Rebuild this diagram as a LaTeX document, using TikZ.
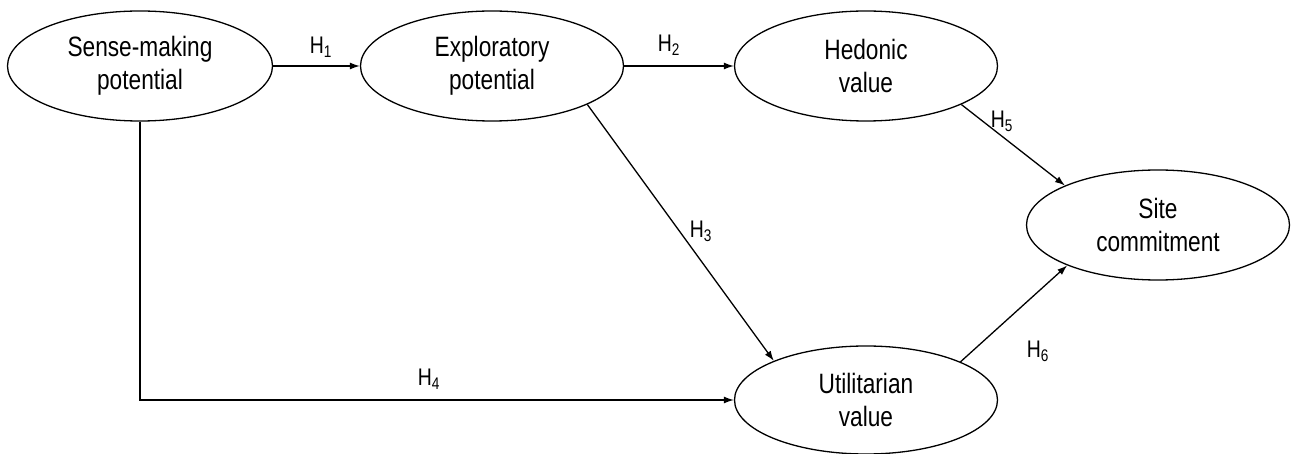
\documentclass[tikz,border=0pt]{standalone}
\usepackage{fontspec}
\setmainfont{Liberation Sans}[FakeStretch=0.81]
\usepackage{tikz}
\usetikzlibrary{arrows.meta, shapes.geometric, positioning}

\newcommand{\hyp}[1]{H\textsubscript{#1}}

\begin{document}
\begin{tikzpicture}[x=1pt, y=-1pt,
  construct/.style={ellipse, draw, line width=1.3pt, inner sep=0pt, align=center,
                    minimum width=263pt, minimum height=110pt,
                    font=\fontsize{28}{33}\selectfont},
  arrow/.style={-{Latex[length=10pt, width=7pt]}, line width=1.3pt},
  hlabel/.style={font=\fontsize{24}{26}\selectfont}
]
\useasboundingbox (0,0) rectangle (1291,454);
\node[construct, minimum width=265pt] (sense) at (140,66) {Sense-making\\potential};
\node[construct] (explor) at (492,66) {Exploratory\\potential};
\node[construct] (hedonic) at (866,66) {Hedonic\\value};
\node[construct] (site) at (1158,225) {Site\\commitment};
\node[construct, minimum height=108pt] (util) at (866,400) {Utilitarian\\value};
\draw[arrow] (sense) -- (explor);
\draw[arrow] (explor) -- (hedonic);
\draw[arrow] (explor.-22.5) -- (util.157.5);
\draw[arrow] (sense.south) |- (util.west);
\draw[arrow] (hedonic.-22.5) -- (site.157);
\draw[arrow] (util.22.5) -- (site.204);
\node[hlabel] (h1) at (321,47) {\hyp{1}};
\node[hlabel] (h2) at (669,45) {\hyp{2}};
\node[hlabel] (h3) at (701,231) {\hyp{3}};
\node[hlabel] (h4) at (429,379) {\hyp{4}};
\node[hlabel] (h5) at (1002,121) {\hyp{5}};
\node[hlabel] (h6) at (1038,351) {\hyp{6}};
\end{tikzpicture}
\end{document}
